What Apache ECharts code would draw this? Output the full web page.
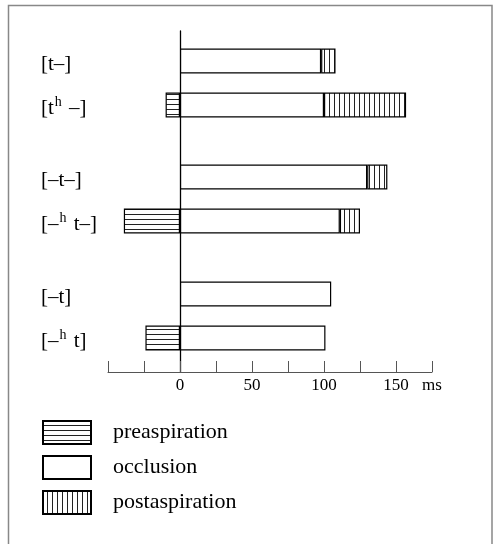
<!DOCTYPE html>
<html>
<head>
<meta charset="utf-8">
<script src="https://cdn.jsdelivr.net/npm/echarts@6/dist/echarts.min.js"></script>
<style>
html,body{margin:0;padding:0;background:#fff;}
#chart{width:493px;height:544px;}
</style>
</head>
<body>
<div id="chart"></div>
<script>
// ---- data ----
var groups = [
  ['[t–]', '[tʰ –]'],
  ['[–t–]', '[–ʰ t–]'],
  ['[–t]', '[–ʰ t]']
];
var preaspiration  = [0, 10, 0, 39, 0, 24];
var occlusion      = [98, 100, 130, 111, 105, 101];
var postaspiration = [10, 57, 14, 14, 0, 0];
var tickLabels = {0: '0', 50: '50', 100: '100', 150: '150', 175: 'ms'};
var seriesNames = ['preaspiration', 'occlusion', 'postaspiration'];

// ---- patterns ----
function makePattern(horizontal) {
  var c = document.createElement('canvas');
  c.width = horizontal ? 4 : 5;
  c.height = horizontal ? 5 : 4;
  var ctx = c.getContext('2d');
  ctx.fillStyle = '#fff';
  ctx.fillRect(0, 0, c.width, c.height);
  ctx.fillStyle = '#222';
  if (horizontal) ctx.fillRect(0, 4, c.width, 1);
  else ctx.fillRect(4, 0, 1, c.height);
  return {image: c, repeat: 'repeat'};
}
var fills = [makePattern(true), '#fff', makePattern(false)];

var serif = '"Liberation Serif", "DejaVu Serif", serif';
var chart = echarts.init(document.getElementById('chart'), null, {renderer: 'canvas'});

var gridLeft = 108, gridRight = 61;
var grids = [{left: gridLeft, right: gridRight, top: 31, bottom: 172}];
var groupTops = [39, 155, 272];
groupTops.forEach(function (t) {
  grids.push({left: gridLeft, right: gridRight, top: t, height: 88});
});

var xAxes = [{
  gridIndex: 0, type: 'value', min: -50, max: 175, interval: 25,
  axisLine: {onZero: false, lineStyle: {color: '#555', width: 1}},
  axisTick: {inside: true, length: 11, lineStyle: {color: '#555'}},
  splitLine: {show: false},
  axisLabel: {
    margin: 5, color: '#000', fontFamily: serif, fontSize: 17,
    formatter: function (v) { return tickLabels[v] !== undefined ? tickLabels[v] : ''; }
  }
}];
var yAxes = [{
  gridIndex: 0, type: 'value', min: 0, max: 1,
  axisLine: {show: true, onZero: true, lineStyle: {color: '#000', width: 1.3}},
  axisTick: {show: false}, axisLabel: {show: false}, splitLine: {show: false}
}];

function fmt(v) {
  var parts = v.split('ʰ');
  if (parts.length === 1) return '{n|' + v + '}';
  return '{n|' + parts[0] + '}{sup|h}{n|' + parts[1] + '}';
}

groups.forEach(function (cats, g) {
  xAxes.push({gridIndex: g + 1, type: 'value', min: -50, max: 175, show: false});
  yAxes.push({
    gridIndex: g + 1, type: 'category', data: cats, inverse: true,
    axisLine: {show: false, onZero: false}, axisTick: {show: false},
    splitLine: {show: false},
    axisLabel: {
      margin: 67, align: 'left', formatter: fmt, padding: [6, 0, 0, 0],
      rich: {
        n: {fontFamily: serif, fontSize: 21, color: '#000', lineHeight: 26},
        sup: {fontFamily: serif, fontSize: 14, color: '#000', verticalAlign: 'top', lineHeight: 14, padding: [0, 2, 0, 1]}
      }
    }
  });
});

var series = [];
var sources = [preaspiration, occlusion, postaspiration];
groups.forEach(function (cats, g) {
  seriesNames.forEach(function (name, s) {
    var d = cats.map(function (c, i) {
      var v = sources[s][g * 2 + i];
      if (!v) return '-';
      return s === 0 ? -v : v;
    });
    series.push({
      name: name, type: 'bar', stack: 'g' + g,
      xAxisIndex: g + 1, yAxisIndex: g + 1,
      barWidth: 25, data: d, silent: true,
      itemStyle: {color: fills[s], borderColor: '#000', borderWidth: 1.2}
    });
  });
});

chart.setOption({
  animation: false,
  backgroundColor: '#fff',
  grid: grids,
  xAxis: xAxes,
  yAxis: yAxes,
  legend: {
    data: seriesNames, orient: 'vertical', left: 37, top: 415,
    itemWidth: 48, itemHeight: 23, itemGap: 10, icon: 'rect',
    selectedMode: false,
    textStyle: {fontFamily: serif, fontSize: 22, color: '#000', padding: [0, 0, 0, 17]}
  },
  graphic: [{
    type: 'rect', shape: {x: 8.5, y: 5.5, width: 483.5, height: 560},
    style: {fill: null, stroke: '#888', lineWidth: 1.5}, silent: true, z: -1
  }],
  series: series
});
</script>
</body>
</html>
